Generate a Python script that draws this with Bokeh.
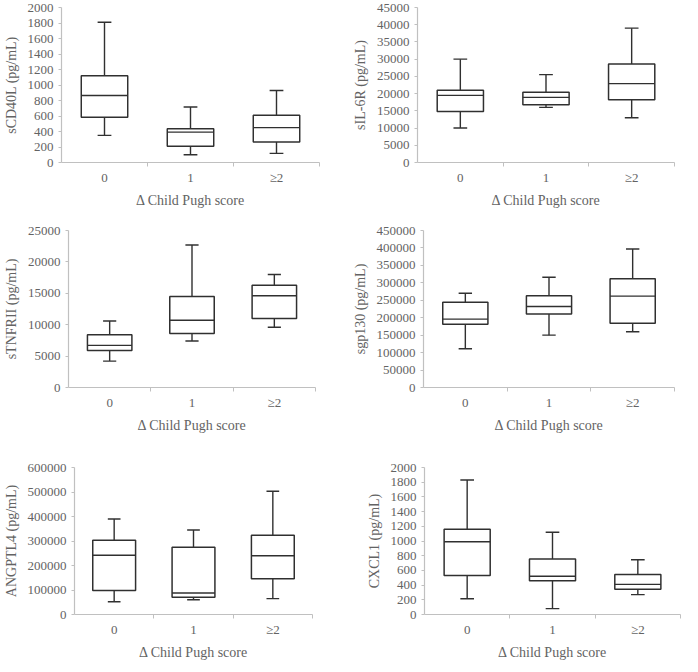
from bokeh.plotting import figure
from bokeh.layouts import column, row
from bokeh.models import FixedTicker, Range1d
from bokeh.embed import file_html
from bokeh.resources import INLINE

categories = ["0", "1", "≥2"]
x_title = "Δ Child Pugh score"

# sCD40L
scd40l_min = [350, 100, 118]
scd40l_q1 = [585, 210, 265]
scd40l_med = [865, 392, 450]
scd40l_q3 = [1120, 434, 610]
scd40l_max = [1810, 716, 930]
scd40l_ticks = [0, 200, 400, 600, 800, 1000, 1200, 1400, 1600, 1800, 2000]

# sIL-6R
sil6r_min = [10000, 16000, 13000]
sil6r_q1 = [14800, 16800, 18200]
sil6r_med = [19500, 18900, 22900]
sil6r_q3 = [21000, 20400, 28600]
sil6r_max = [30000, 25500, 39000]
sil6r_ticks = [0, 5000, 10000, 15000, 20000, 25000, 30000, 35000, 40000, 45000]

# sTNFRII
stnfrii_min = [4200, 7400, 9600]
stnfrii_q1 = [5900, 8600, 11000]
stnfrii_med = [6700, 10700, 14600]
stnfrii_q3 = [8400, 14500, 16300]
stnfrii_max = [10600, 22700, 18000]
stnfrii_ticks = [0, 5000, 10000, 15000, 20000, 25000]

# sgp130
sgp130_min = [111000, 150000, 160000]
sgp130_q1 = [181000, 211000, 184000]
sgp130_med = [196000, 232000, 262000]
sgp130_q3 = [244000, 263000, 312000]
sgp130_max = [270000, 316000, 397000]
sgp130_ticks = [0, 50000, 100000, 150000, 200000, 250000, 300000, 350000, 400000, 450000]

# ANGPTL4
angptl4_min = [52000, 60000, 65000]
angptl4_q1 = [98000, 70000, 146000]
angptl4_med = [242000, 88000, 240000]
angptl4_q3 = [303000, 274000, 323000]
angptl4_max = [390000, 345000, 503000]
angptl4_ticks = [0, 100000, 200000, 300000, 400000, 500000, 600000]

# CXCL1
cxcl1_min = [215, 80, 270]
cxcl1_q1 = [530, 460, 345]
cxcl1_med = [990, 520, 410]
cxcl1_q3 = [1160, 755, 545]
cxcl1_max = [1830, 1120, 745]
cxcl1_ticks = [0, 200, 400, 600, 800, 1000, 1200, 1400, 1600, 1800, 2000]

FONT = "Liberation Serif"
TEXT = "#636363"
AXIS = "#c0c0c0"
BOX = "#303030"
BOX_W = 0.54
CAP_W = 0.16


def panel(ylabel, mins, q1, med, q3, maxs, yticks, w, h, bl, br, bt, bb):
    xs = [i + 0.5 for i in range(len(categories))]
    p = figure(width=w, height=h, output_backend="svg", toolbar_location=None,
               x_range=Range1d(0, len(categories)),
               y_range=Range1d(yticks[0], yticks[-1]),
               min_border_left=bl, min_border_right=br,
               min_border_top=bt, min_border_bottom=bb)
    p.outline_line_color = None
    p.grid.visible = False
    p.background_fill_color = "white"
    p.border_fill_color = "white"

    # whiskers
    p.segment(x0=xs, y0=q3, x1=xs, y1=maxs, line_color=BOX, line_width=1.4)
    p.segment(x0=xs, y0=q1, x1=xs, y1=mins, line_color=BOX, line_width=1.4)
    # caps
    p.segment(x0=[x - CAP_W / 2 for x in xs], y0=maxs,
              x1=[x + CAP_W / 2 for x in xs], y1=maxs, line_color=BOX, line_width=1.4)
    p.segment(x0=[x - CAP_W / 2 for x in xs], y0=mins,
              x1=[x + CAP_W / 2 for x in xs], y1=mins, line_color=BOX, line_width=1.4)
    # boxes
    p.vbar(x=xs, bottom=q1, top=q3, width=BOX_W, fill_color="white",
           line_color=BOX, line_width=1.5)
    # medians
    p.segment(x0=[x - BOX_W / 2 for x in xs], y0=med,
              x1=[x + BOX_W / 2 for x in xs], y1=med, line_color=BOX, line_width=1.4)

    xa = p.xaxis[0]
    xa.ticker = FixedTicker(ticks=xs, minor_ticks=list(range(1, len(categories) + 1)))
    xa.major_label_overrides = {x: c for x, c in zip(xs, categories)}
    xa.major_tick_out = 0
    xa.major_tick_in = 0
    xa.minor_tick_out = 4
    xa.minor_tick_in = 0
    xa.major_label_standoff = 3
    xa.axis_label = x_title
    xa.axis_label_standoff = 5

    ya = p.yaxis[0]
    ya.ticker = FixedTicker(ticks=yticks)
    ya.major_label_overrides = {t: str(t) for t in yticks}
    ya.major_tick_out = 3
    ya.major_tick_in = 0
    ya.minor_tick_out = 0
    ya.minor_tick_in = 0
    ya.major_label_standoff = 5
    ya.axis_label = ylabel
    ya.axis_label_standoff = 6

    for ax in (xa, ya):
        ax.axis_line_color = AXIS
        ax.axis_line_width = 1.2
        ax.major_tick_line_color = AXIS
        ax.minor_tick_line_color = AXIS
        ax.major_label_text_font = FONT
        ax.major_label_text_font_size = "13px"
        ax.major_label_text_color = TEXT
        ax.axis_label_text_font = FONT
        ax.axis_label_text_font_size = "14px"
        ax.axis_label_text_font_style = "normal"
        ax.axis_label_text_color = TEXT
    return p


p1 = panel("sCD40L (pg/mL)", scd40l_min, scd40l_q1, scd40l_med, scd40l_q3, scd40l_max,
           scd40l_ticks, 341, 223, 54, 22, 7, 61)
p2 = panel("sIL-6R (pg/mL)", sil6r_min, sil6r_q1, sil6r_med, sil6r_q3, sil6r_max,
           sil6r_ticks, 341, 223, 76, 8, 7, 61)
p3 = panel("sTNFRII (pg/mL)", stnfrii_min, stnfrii_q1, stnfrii_med, stnfrii_q3, stnfrii_max,
           stnfrii_ticks, 341, 222, 57, 26, 7, 58)
p4 = panel("sgp130 (pg/mL)", sgp130_min, sgp130_q1, sgp130_med, sgp130_q3, sgp130_max,
           sgp130_ticks, 341, 222, 82, 8, 7, 58)
p5 = panel("ANGPTL4 (pg/mL)", angptl4_min, angptl4_q1, angptl4_med, angptl4_q3, angptl4_max,
           angptl4_ticks, 341, 217, 60, 29, 22, 45)
p6 = panel("CXCL1 (pg/mL)", cxcl1_min, cxcl1_q1, cxcl1_med, cxcl1_q3, cxcl1_max,
           cxcl1_ticks, 341, 217, 83, 2, 22, 45)

layout = column(row(p1, p2), row(p3, p4), row(p5, p6))

with open("out.html", "w") as f:
    f.write(file_html(layout, INLINE))
